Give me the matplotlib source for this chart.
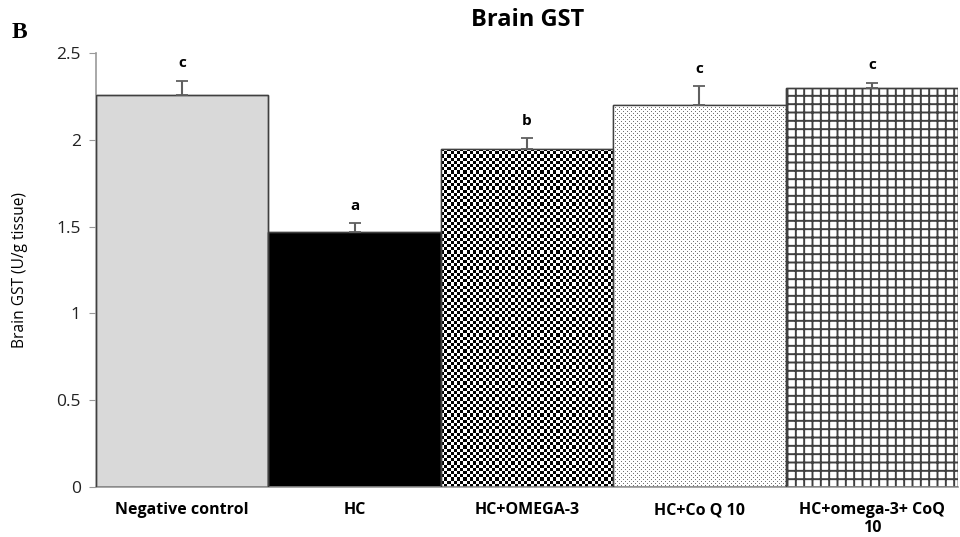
import numpy as np
import matplotlib
matplotlib.use("Agg")
from matplotlib import pyplot as plt

# data
groups = ["Negative control", "HC", "HC+OMEGA-3", "HC+Co Q 10", "HC+omega-3+ CoQ\n10"]
gst = [2.26, 1.47, 1.95, 2.20, 2.30]
sem = [0.08, 0.05, 0.06, 0.11, 0.03]
letters = ["c", "a", "b", "c", "c"]

plt.rcParams['font.family'] = ['Open Sans', 'DejaVu Sans']
plt.rcParams['hatch.color'] = '#303030'
plt.rcParams['hatch.linewidth'] = 1.4

fig = plt.figure(figsize=(9.6, 5.37), dpi=100)
ax = fig.add_axes([0.100, 0.0931, 0.898, 0.808])
ax.set_xlim(-0.5, len(groups) - 0.5)
ax.set_ylim(0, 2.5)

x = np.arange(len(groups))
faces = ["#d9d9d9", "black", "white", "white", "white"]
bars = ax.bar(x, gst, width=1.0, color=faces, edgecolor="#404040", linewidth=1.0, zorder=2)
bars[4].set_hatch("++")

# texture fills for the patterned bars, clipped to the bar outline
def texture(bar, tile, cell):
    x0, y0 = bar.get_x(), bar.get_y()
    x1, y1 = x0 + bar.get_width(), y0 + bar.get_height()
    p0 = ax.transData.transform((x0, y0))
    p1 = ax.transData.transform((x1, y1))
    ny = int(abs(p1[1] - p0[1]) / cell) + 1
    nx = int(abs(p1[0] - p0[0]) / cell) + 1
    th, tw = tile.shape
    arr = np.tile(tile, (ny // th + 1, nx // tw + 1))[:ny, :nx]
    im = ax.imshow(arr, extent=[x0, x1, y0, y1], cmap="gray", vmin=0, vmax=1,
                   interpolation="nearest", aspect="auto", zorder=2.5)
    im.set_clip_path(bar)

checker = np.array([[0, 1], [1, 0]], dtype=float)
texture(bars[2], checker, 3.2)
dots = np.array([[0.45, 1, 1, 1],
                 [1, 1, 1, 1],
                 [1, 1, 0.45, 1],
                 [1, 1, 1, 1]])
texture(bars[3], dots, 1.0)
ax.set_xlim(-0.5, len(groups) - 0.5)
ax.set_ylim(0, 2.5)

# outlines on top of textures
for b in bars:
    ax.add_patch(plt.Rectangle((b.get_x(), 0), b.get_width(), b.get_height(),
                               fill=False, edgecolor="#404040", linewidth=1.0, zorder=3))

ax.errorbar(x, gst, yerr=[np.zeros(len(sem)), sem], fmt="none", ecolor="#606060",
            elinewidth=1.5, capsize=4, capthick=1.3, zorder=4)

for xi, v, e, t in zip(x, gst, sem, letters):
    ax.text(xi, v + e + 0.06, t, ha="center", va="bottom", fontsize=11, fontweight="bold")

ax.spines["top"].set_visible(False)
ax.spines["right"].set_visible(False)
ax.spines["left"].set_color("#999999")
ax.spines["bottom"].set_color("#999999")
ax.spines["left"].set_linewidth(1.2)
ax.spines["bottom"].set_linewidth(1.2)

ax.set_yticks([0, 0.5, 1, 1.5, 2, 2.5])
ax.set_yticklabels(["0", "0.5", "1", "1.5", "2", "2.5"])
ax.tick_params(axis="y", direction="out", length=5, color="#999999", labelsize=12.5,
               labelcolor="#222222", pad=6)
ax.set_xticks(x)
ax.set_xticklabels(groups, fontsize=11.5, fontweight="bold", linespacing=1.15)
ax.tick_params(axis="x", length=0, pad=11)

ax.set_ylabel("Brain GST (U/g tissue)", fontsize=11.2, labelpad=20)
fig.text(0.55, 0.963, "Brain GST", ha="center", va="center", fontsize=17, fontweight="bold")
fig.text(0.012, 0.94, "B", family="Liberation Serif", fontsize=17, fontweight="bold",
         ha="left", va="center")

fig.savefig("out.png", dpi=100)
